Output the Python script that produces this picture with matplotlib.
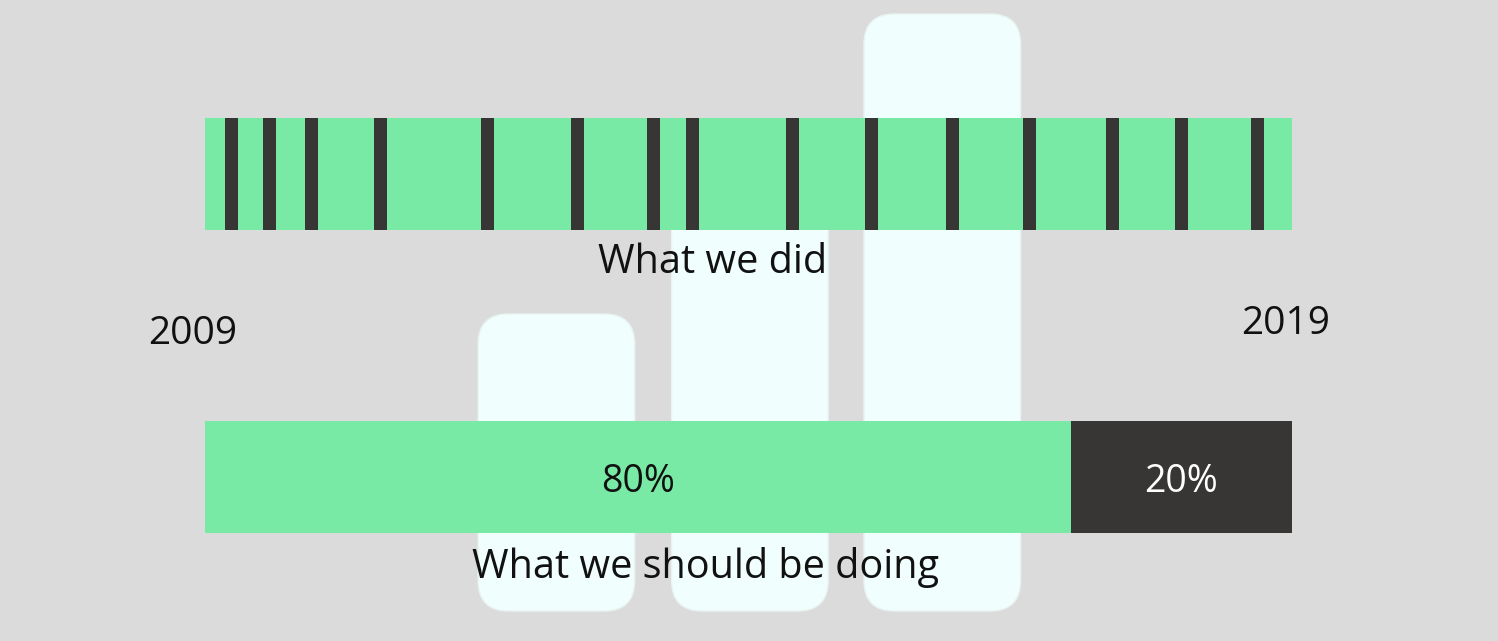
import matplotlib
matplotlib.use("Agg")
import matplotlib.pyplot as plt
from matplotlib.patches import FancyBboxPatch

# timeline of the "what we did" strip (years)
start_year, end_year = 2009, 2019
events = [2009.24, 2009.59, 2009.98, 2010.61, 2011.60, 2012.42, 2013.12, 2013.48,
          2014.40, 2015.13, 2015.87, 2016.58, 2017.35, 2017.98, 2018.68]
event_width = 0.12

# "what we should be doing" split (as drawn) and its labels
shares = [79.6, 20.4]
share_labels = ["80%", "20%"]

# decorative background bar chart
bg_x = [2012.23, 2014.01, 2015.78]
bg_heights = [297, 447, 597]
bg_width = 1.44

GREEN = "#79eaa6"
DARK = "#383634"
BG = "#dcdbdb"
PALE = "#f0fffd"
FONT = "Open Sans"

fig = plt.figure(figsize=(14.98, 6.41), dpi=100, facecolor=BG)
ax = fig.add_axes([205.3 / 1498, 0, 1087 / 1498, 1])
ax.set_xlim(start_year, end_year)
ax.set_ylim(0, 641)
ax.axis("off")

# rounded background bars
px_per_year = 1087 / (end_year - start_year)
for x, h in zip(bg_x, bg_heights):
    box = FancyBboxPatch((x - bg_width / 2, 30), bg_width, h,
                         boxstyle="round,pad=0,rounding_size=0.28",
                         mutation_aspect=px_per_year,
                         fc=PALE, ec="#e8f4f1", lw=1, clip_on=False, zorder=1)
    ax.add_patch(box)

# top strip
ax.barh(467, end_year - start_year, left=start_year, height=112, color=GREEN, zorder=2)
ax.bar(events, 112, width=event_width, bottom=411, color=DARK, zorder=3)
ax.text(2013.67, 368, "What we did", ha="center", va="baseline",
        fontsize=28.5, family=FONT, color="#111111", zorder=4)

# bottom split bar
span = end_year - start_year
left = start_year
for s, lab, c, tc in zip(shares, share_labels, [GREEN, DARK], ["#111111", "white"]):
    w = span * s / 100
    ax.barh(164, w, left=left, height=112, color=c, zorder=2)
    ax.text(left + w / 2, 149, lab, ha="center", va="baseline",
            fontsize=27, family=FONT, color=tc, zorder=4)
    left += w
ax.text(2013.6, 63, "What we should be doing", ha="center", va="baseline",
        fontsize=28.5, family=FONT, color="#111111", zorder=4)

ax.text(2008.88, 297, str(start_year), ha="center", va="baseline",
        fontsize=28, family=FONT, color="#111111", clip_on=False)
ax.text(2018.94, 307, str(end_year), ha="center", va="baseline",
        fontsize=28, family=FONT, color="#111111", clip_on=False)

fig.savefig("out.png", dpi=100, facecolor=BG)
